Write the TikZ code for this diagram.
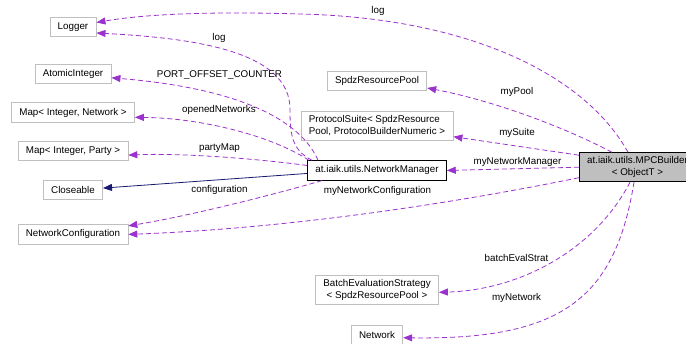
\documentclass[tikz,border=0pt]{standalone}
\usepackage{fontspec}
\setmainfont{Liberation Sans}
\usepackage{tikz}
\usetikzlibrary{arrows.meta,positioning}
\definecolor{orchid}{HTML}{9A32CD}
\definecolor{navyline}{HTML}{191970}
\definecolor{boxgray}{HTML}{BFBFBF}

\begin{document}
\begin{tikzpicture}[x=1pt,y=-1pt,every path/.style={line width=.8pt}]
  \tikzset{cls/.style={draw=boxgray,inner xsep=7.8pt,inner ysep=4pt,minimum height=19.5pt,font=\fontsize{9.8}{12}\selectfont}};
  \tikzset{cur/.style={cls,draw=black}};
  \tikzset{mem/.style={draw=orchid,dash pattern=on 5pt off 3pt,-{Triangle[length=9pt,width=7pt,fill=orchid]}}};
  \tikzset{inh/.style={draw=navyline,-{Triangle[length=9pt,width=7pt,fill=navyline]}}};
  \tikzset{lbl/.style={inner sep=1pt,font=\fontsize{9.8}{12}\selectfont}};
  \useasboundingbox (0,0) rectangle (686,344);
  \node[cls] (logger) at (73,27) {Logger};
  \node[cls,below=26.5pt of logger] (atomic) {AtomicInteger};
  \node[cls,below=18.4pt of atomic] (mapnet) {Map< Integer, Network >};
  \node[cls,below=18.3pt of mapnet] (mapparty) {Map< Integer, Party >};
  \node[cls,below=18.7pt of mapparty] (closeable) {Closeable};
  \node[cls,below=24pt of closeable] (netconf) {NetworkConfiguration};
  \node[cls] (pool) at (377,81) {SpdzResourcePool};
  \node[cls,align=left,below=20pt of pool] (suite) {ProtocolSuite< SpdzResource\\Pool, ProtocolBuilderNumeric >};
  \node[cur,below=20pt of suite] (manager) {at.iaik.utils.NetworkManager};
  \node[cur,fill=boxgray,align=center] (builder) at (637.5,167.2) {at.iaik.utils.MPCBuilder\\< ObjectT >};
  \node[cls,align=center] (batch) at (377,290.3) {BatchEvaluationStrategy\\< SpdzResourcePool >};
  \node[cls,below=19.3pt of batch] (network) {Network};
  \draw[mem] ([xshift=-9.5pt]builder.north) .. controls (585,75) and (470,18) .. (300,14)
    .. controls (200,11) and (140,15) .. ([yshift=4.5pt]logger.east);
  \draw[mem] ([xshift=-65pt]manager.north) .. controls (292,150) and (290,135) .. (290,110)
    .. controls (291,50) and (190,38) .. ([yshift=-6pt]logger.east);
  \draw[mem] ([xshift=-59pt]manager.north) .. controls (305,130) and (260,90) .. ([yshift=-4pt]atomic.east);
  \draw[mem] ([xshift=-68pt]manager.north) .. controls (270,135) and (200,118) .. ([yshift=-4.8pt]mapnet.east);
  \draw[mem] ([yshift=5pt]manager.west) .. controls (250,158) and (180,153) .. ([yshift=-4pt]mapparty.east);
  \draw[inh] ([yshift=-3pt]manager.west) -- ([yshift=2pt]closeable.east);
  \draw[mem] ([xshift=-55pt]manager.south) .. controls (290,190) and (200,214) .. ([yshift=8.5pt]netconf.east);
  \draw[mem] ([yshift=-10.5pt]builder.west) .. controls (470,200) and (300,228) .. (netconf.east);
  \draw[mem] ([xshift=-25.5pt]builder.north) .. controls (560,125) and (490,100) .. ([yshift=-7pt]pool.east);
  \draw[mem] ([yshift=12pt]builder.west) -- ([yshift=-11pt]suite.east);
  \draw[mem] (builder.west) -- (manager.east);
  \draw[mem] ([xshift=-7.5pt]builder.south) .. controls (595,250) and (520,290) .. ([yshift=-2pt]batch.east);
  \draw[mem] ([xshift=-3.5pt]builder.south) .. controls (615,300) and (560,340) .. ([yshift=-3pt]network.east);
  \node[lbl] (lbllog) at (378,11) {log};
  \node[lbl] (lbllogmgr) at (219,38) {log};
  \node[lbl] (lblport) at (219.5,75) {PORT\_OFFSET\_COUNTER};
  \node[lbl] (lblopened) at (219,110) {openedNetworks};
  \node[lbl] (lblparty) at (219.5,148) {partyMap};
  \node[lbl] (lblconf) at (219.5,190) {configuration};
  \node[lbl] (lblmyconf) at (377.5,191) {myNetworkConfiguration};
  \node[lbl] (lblpool) at (517,92) {myPool};
  \node[lbl] (lblsuite) at (517,133) {mySuite};
  \node[lbl] (lblmanager) at (517.5,162) {myNetworkManager};
  \node[lbl] (lblbatch) at (516.5,258) {batchEvalStrat};
  \node[lbl] (lblnetwork) at (516.5,298) {myNetwork};
\end{tikzpicture}
\end{document}
